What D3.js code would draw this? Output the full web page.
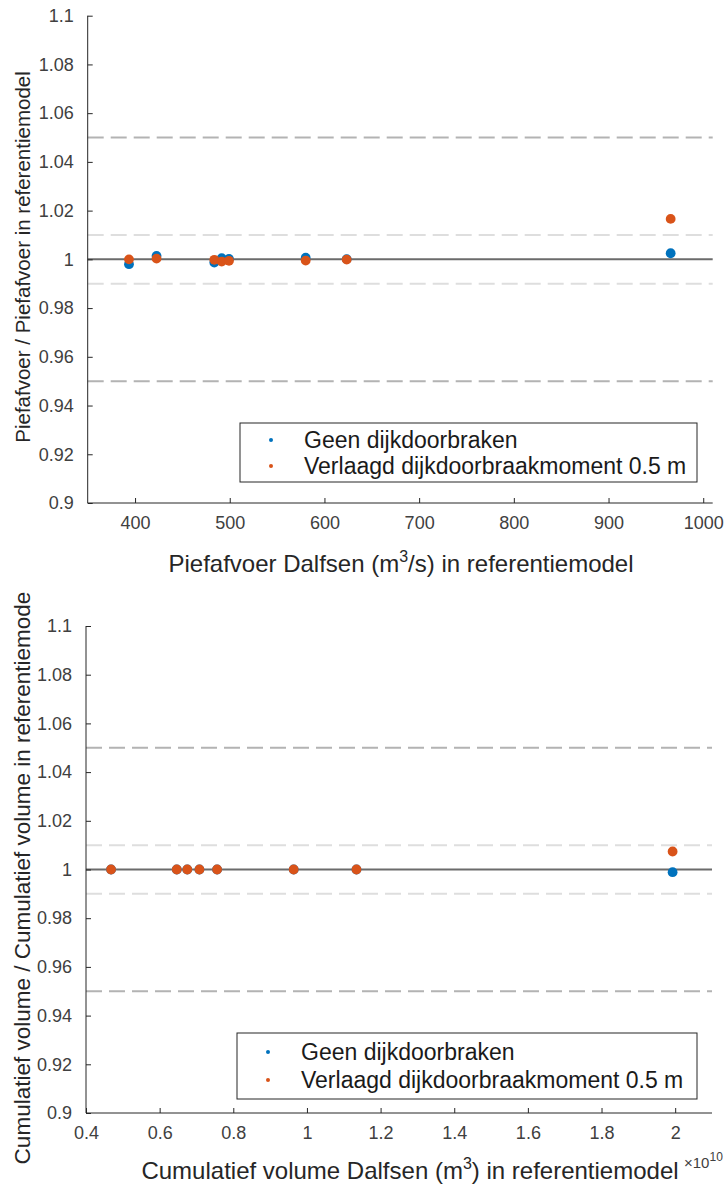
<!DOCTYPE html>
<html>
<head>
<meta charset="utf-8">
<script src="https://cdn.jsdelivr.net/npm/d3@7/dist/d3.min.js"></script>
<style>
  html, body { margin: 0; padding: 0; background: #fff; }
  svg { display: block; font-family: "Liberation Sans", Arial, Helvetica, sans-serif; }
</style>
</head>
<body>
<svg id="chart" width="726" height="1189"></svg>
<script>
// Peak discharge Dalfsen (m3/s) in reference model, and ratio to reference
const peakX = [393.6, 422.7, 483.7, 491.5, 499.2, 580.2, 623.5, 965.6];
const peakGeen = [0.9980, 1.0014, 0.9987, 1.0005, 1.0002, 1.0007, 1.0001, 1.0025];
const peakVerlaagd = [1.0000, 1.0003, 0.9998, 0.9991, 0.9994, 0.9995, 0.9999, 1.0166];

// Cumulative volume Dalfsen (x 1e10 m3) in reference model, and ratio to reference
const volX = [0.468, 0.6465, 0.675, 0.708, 0.756, 0.964, 1.1345, 1.993];
const volGeen = [1.0000, 1.0000, 1.0000, 1.0000, 1.0000, 1.0000, 1.0000, 0.9989];
const volVerlaagd = [1.0000, 1.0000, 1.0000, 1.0000, 1.0000, 1.0000, 1.0000, 1.0074];

const yTicks = [0.9, 0.92, 0.94, 0.96, 0.98, 1, 1.02, 1.04, 1.06, 1.08, 1.1];
const peakTicks = [400, 500, 600, 700, 800, 900, 1000];
const volTicks = [0.4, 0.6, 0.8, 1, 1.2, 1.4, 1.6, 1.8, 2];

const seriesNames = ["Geen dijkdoorbraken", "Verlaagd dijkdoorbraakmoment 0.5 m"];
const seriesColors = ["#0072BD", "#D95319"];

// Reference levels: solid at 1, light dashed at ±1 %, darker dashed at ±5 %
const refLines = [
  { y: 1.05, color: "#b3b3b3", dash: "16,7" },
  { y: 0.95, color: "#b3b3b3", dash: "16,7" },
  { y: 1.01, color: "#dedede", dash: "16,7" },
  { y: 0.99, color: "#dedede", dash: "16,7" },
  { y: 1.00, color: "#6b6b6b", dash: null }
];

const TICK_FONT = "18px";
const LEGEND_FONT = "23px";
const XLABEL_FONT = "24px";

const svg = d3.select("#chart");

function fmtY(d) { return String(+d.toFixed(2)); }

function panel(cfg) {
  const x = d3.scaleLinear().domain(cfg.xDomain).range([cfg.left, cfg.right]);
  const y = d3.scaleLinear().domain([0.9, 1.1]).range([cfg.bottom, cfg.top]);
  const g = svg.append("g");

  // reference lines
  refLines.forEach(r => {
    g.append("line")
      .attr("x1", cfg.left).attr("x2", cfg.right)
      .attr("y1", y(r.y)).attr("y2", y(r.y))
      .attr("stroke", r.color).attr("stroke-width", 2)
      .attr("stroke-dasharray", r.dash);
  });

  // y axis (ticks inward)
  const yAxis = d3.axisLeft(y).tickValues(yTicks).tickSize(-5).tickPadding(14).tickFormat(fmtY);
  const ya = g.append("g").attr("transform", `translate(${cfg.left},0)`).call(yAxis);
  ya.select(".domain").attr("stroke", "#262626").attr("stroke-width", 1).attr("d", `M0,${cfg.top}V${cfg.bottom}`);
  ya.selectAll(".tick line").attr("stroke", "#262626");
  ya.selectAll(".tick text").attr("fill", "#404040").style("font-size", TICK_FONT)
    .style("font-family", "'Liberation Sans', Arial, sans-serif");

  // x axis (ticks inward)
  const xAxis = d3.axisBottom(x).tickValues(cfg.xTicks).tickSize(-5).tickPadding(13).tickFormat(cfg.xFmt);
  const xa = g.append("g").attr("transform", `translate(0,${cfg.bottom})`).call(xAxis);
  xa.select(".domain").attr("stroke", "#262626").attr("stroke-width", 1).attr("d", `M${cfg.left},0H${cfg.right}`);
  xa.selectAll(".tick line").attr("stroke", "#262626");
  xa.selectAll(".tick text").attr("fill", "#404040").style("font-size", TICK_FONT)
    .style("font-family", "'Liberation Sans', Arial, sans-serif");

  // data points: blue first, orange on top
  [cfg.geen, cfg.verlaagd].forEach((vals, si) => {
    g.append("g").selectAll("circle").data(cfg.xs.map((xv, i) => [xv, vals[i]]))
      .join("circle")
      .attr("cx", d => x(d[0])).attr("cy", d => y(d[1]))
      .attr("r", 4.9).attr("fill", seriesColors[si]);
  });

  // legend
  const lg = g.append("g");
  lg.append("rect")
    .attr("x", cfg.legend.x).attr("y", cfg.legend.y)
    .attr("width", cfg.legend.w).attr("height", cfg.legend.h)
    .attr("fill", "#fff").attr("stroke", "#262626").attr("stroke-width", 1);
  seriesNames.forEach((name, i) => {
    const cy = cfg.legend.y + cfg.legend.row0 + i * cfg.legend.dy;
    lg.append("circle").attr("cx", cfg.legend.x + 31).attr("cy", cy).attr("r", 2).attr("fill", seriesColors[i]);
    lg.append("text").attr("x", cfg.legend.x + 64).attr("y", cy).attr("dy", "0.35em")
      .attr("fill", "#1a1a1a").style("font-size", LEGEND_FONT).text(name);
  });

  // y label
  svg.append("text")
    .attr("transform", `translate(${cfg.yLabelX},${cfg.yLabelY}) rotate(-90)`)
    .attr("text-anchor", "middle").attr("fill", "#262626").style("font-size", cfg.yLabelFont)
    .text(cfg.yLabel);

  // x label with superscript
  const xl = svg.append("text")
    .attr("x", cfg.xLabelX).attr("y", cfg.xLabelY)
    .attr("text-anchor", "middle").attr("fill", "#262626").style("font-size", XLABEL_FONT);
  cfg.xLabelParts.forEach(p => {
    const t = xl.append("tspan").text(p.t);
    if (p.sup) t.attr("dy", "-10").style("font-size", "16px");
    if (p.after) t.attr("dy", "10");
  });
  return { x, y };
}

panel({
  left: 87.7, right: 712.7, top: 15.7, bottom: 503,
  xDomain: [350, 1010], xTicks: peakTicks, xFmt: d3.format("d"),
  xs: peakX, geen: peakGeen, verlaagd: peakVerlaagd,
  legend: { x: 240, y: 423, w: 457, h: 59, row0: 17, dy: 26 },
  yLabel: "Piefafvoer / Piefafvoer in referentiemodel", yLabelX: 30, yLabelY: 257, yLabelFont: "20.5px",
  xLabelX: 401, xLabelY: 572,
  xLabelParts: [{ t: "Piefafvoer Dalfsen (m" }, { t: "3", sup: true }, { t: "/s) in referentiemodel", after: true }]
});

panel({
  left: 86, right: 712, top: 626, bottom: 1113,
  xDomain: [0.4, 2.1], xTicks: volTicks, xFmt: d => fmtY(d),
  xs: volX, geen: volGeen, verlaagd: volVerlaagd,
  legend: { x: 237, y: 1033, w: 460, h: 66, row0: 19, dy: 28 },
  yLabel: "Cumulatief volume / Cumulatief volume in referentiemode", yLabelX: 30, yLabelY: 878, yLabelFont: "22.5px",
  xLabelX: 410, xLabelY: 1179,
  xLabelParts: [{ t: "Cumulatief volume Dalfsen (m" }, { t: "3", sup: true }, { t: ") in referentiemodel", after: true }]
});

// exponent marker for the volume axis
const ex = svg.append("text").attr("x", 684).attr("y", 1168).attr("fill", "#404040").style("font-size", "15px");
ex.append("tspan").text("\u00d710");
ex.append("tspan").attr("dy", "-7").style("font-size", "12px").text("10");
</script>
</body>
</html>
